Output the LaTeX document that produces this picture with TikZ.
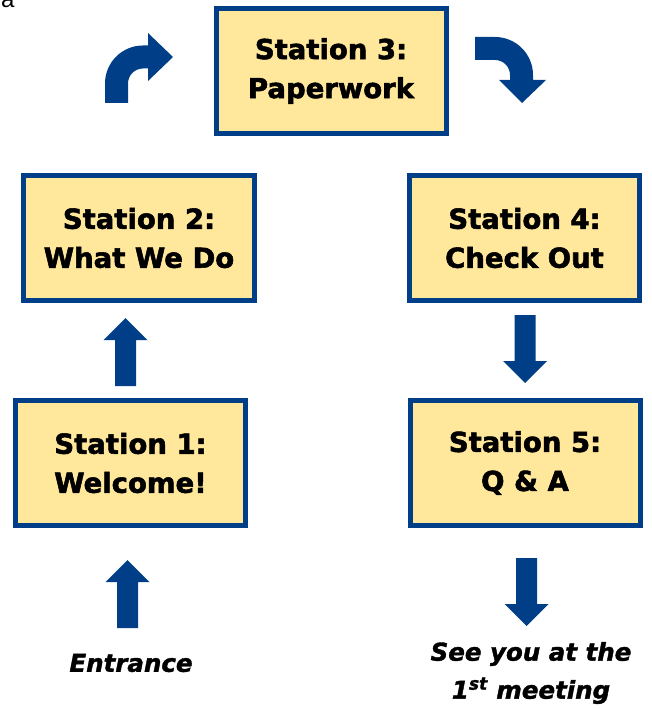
\documentclass[tikz,border=0pt]{standalone}
\usepackage{fontspec}
\setmainfont{DejaVu Sans}
\newfontfamily\fragfont{Liberation Sans}
\newfontfamily\heavyfont{DejaVu Sans Bold}[FakeBold=2]
\newfontfamily\heavyital{DejaVu Sans Bold Oblique}[FakeBold=1.6]
\definecolor{boxblue}{RGB}{0,63,135}
\definecolor{boxfill}{RGB}{255,232,155}
\tikzset{
  stationbox/.style={draw=boxblue, fill=boxfill, line width=5bp, minimum width=230bp, minimum height=125bp,
    align=center, font=\heavyfont\fontsize{27.5bp}{39bp}\selectfont, inner sep=0pt},
  italictext/.style={align=center, font=\heavyital\fontsize{24.5bp}{38bp}\selectfont, inner sep=0pt},
  uparr/.pic={\fill[boxblue] (-10.5,0) -- (-10.5,-46) -- (-22,-46) -- (0,-68) -- (22,-46) -- (10.5,-46) -- (10.5,0) -- cycle;},
  downarr/.pic={\fill[boxblue] (-10.5,0) -- (-10.5,46) -- (-22,46) -- (0,68) -- (22,46) -- (10.5,46) -- (10.5,0) -- cycle;}
}
\begin{document}
\begin{tikzpicture}[x=1bp,y=-1bp]
\useasboundingbox (0,0) rectangle (652,709);
\node[anchor=base west, inner sep=0pt, font=\fragfont\fontsize{24bp}{24bp}\selectfont] (frag) at (1,8) {a};

\node[stationbox] (s3) at (331,71) {Station 3:\\Paperwork};
\node[stationbox] (s2) at (139,238) {Station 2:\\What We Do};
\node[stationbox] (s4) at (524.5,238) {Station 4:\\Check Out};
\node[stationbox] (s1) at (130.5,463) {Station 1:\\Welcome!};
\node[stationbox] (s5) at (525,463) {Station 5:\\Q \& A};

\node[italictext] (ent) at (131,663) {Entrance};
\node[italictext] (see) at (531,673) {See you at the\\1\textsuperscript{st} meeting};

% straight block arrows
\pic at (125.5,386) {uparr};
\pic at (127.5,628) {uparr};
\pic at (525,315) {downarr};
\pic at (526.5,558) {downarr};

% curved arrow left
\fill[boxblue] (105,103) -- (105,83.5) .. controls (105,62.5) and (122,45.5) .. (143,45.5)
  -- (148,45.5) -- (148,33) -- (173,57) -- (148,81) -- (148,68.5) -- (143,68.5)
  .. controls (134.7,68.5) and (128,75.2) .. (128,83.5) -- (128,103) -- cycle;
% curved arrow right
\fill[boxblue] (475,37) -- (495,37) .. controls (516,37) and (533,54) .. (533,75)
  -- (533,80) -- (546,80) -- (522,103) -- (499,80) -- (510,80) -- (510,75)
  .. controls (510,66.7) and (503.3,60) .. (495,60) -- (475,60) -- cycle;
\end{tikzpicture}
\end{document}
